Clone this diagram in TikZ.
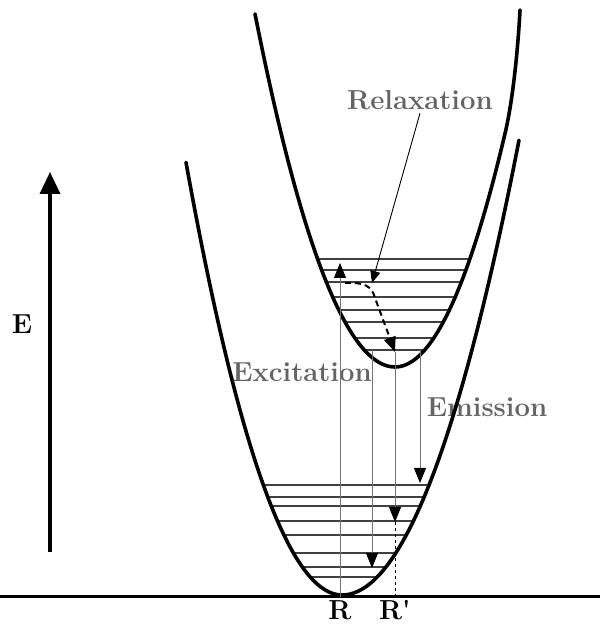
\documentclass[tikz,border=0pt]{standalone}
\usepackage{tikz}
\usetikzlibrary{positioning,arrows.meta}
\definecolor{labelgray}{RGB}{100,100,100}

\begin{document}
\begin{tikzpicture}[x=1pt, y=1pt, >={Triangle[length=15pt,width=12pt,color=black]},
    every node/.style={font=\fontsize{27.5}{32}\selectfont\bfseries}]
  \tikzstyle{well}=[line width=3.6pt, line cap=round]
  \tikzstyle{level}=[line width=1.4pt, black!75]
  \tikzstyle{trans}=[line width=0.8pt, black!55]
  \tikzstyle{relax}=[line width=2pt, dash pattern=on 6pt off 4pt]
  \tikzstyle{lbl}=[text=labelgray]
  \useasboundingbox (0,0) rectangle (600,628);
  % energy axis and baseline
  \coordinate (axbot) at (50,76);
  \coordinate (axtop) at (50,456);
  \draw[line width=3.5pt, -{Triangle[length=22pt,width=20pt]}] (axbot) -- (axtop);
  \node (elbl) at (22,304) {E};
  \coordinate (base0) at (0,31);
  \coordinate (base1) at (600,31);
  \draw[line width=3pt] (base0) -- (base1);
  % labels
  \node[lbl] (relaxlbl) at (420,528) {Relaxation};
  \node[lbl] (exclbl) at (302,256) {Excitation};
  \node[lbl] (emlbl) at (487,221) {Emission};
  % vibrational levels
  \foreach \lv in {369,358,346,331,318,306,290,278} {
    \pgfmathsetmacro{\dd}{sqrt(\lv-261)}
    \draw[level] ({395-7.45*\dd},\lv) -- ({395+7.2*\dd},\lv);
  }
  \foreach \lv in {143,131,122,107,93,75,61,51} {
    \pgfmathsetmacro{\dd}{sqrt(\lv-33)}
    \draw[level] ({342-7.5*\dd},\lv) -- ({342+8.3*\dd},\lv);
  }
  % potential curves
  \draw[well] plot[domain=186:342, samples=60] (\x, {33+((342-\x)/7.5)^2})
    -- plot[domain=342:519, samples=60] (\x, {33+((\x-342)/8.3)^2});
  \draw[well] plot[domain=255:395, samples=60] (\x, {261+((395-\x)/7.45)^2})
    -- plot[domain=395:505, samples=50] (\x, {261+((\x-395)/7.2)^2})
    .. controls (513,528) and (518,580) .. (520,618);
  % transitions
  \coordinate (excbot) at (340,31);
  \coordinate (exctop) at (340,365);
  \coordinate (rpbot) at (395,31);
  \coordinate (em1top) at (420,278);
  \coordinate (em1bot) at (420,145);
  \coordinate (em2top) at (395,276);
  \coordinate (em2bot) at (395,106);
  \coordinate (em3top) at (372,278);
  \coordinate (em3bot) at (372,60);
  \draw[trans, ->] (excbot) -- (exctop);
  \draw[trans, ->] (em1top) -- (em1bot);
  \draw[trans, ->] (em2top) -- (em2bot);
  \draw[trans, ->] (em3top) -- (em3bot);
  \draw[line width=1pt, dash pattern=on 3pt off 3pt] (em2bot) -- (rpbot);
  \coordinate (relaxa) at (345,345);
  \coordinate (relaxtip) at (372,345);
  \draw[relax, ->] (relaxa) .. controls (364,346) and (372,342) .. (375,330) -- (em2top);
  \draw[line width=0.9pt, -{Triangle[length=12pt,width=10pt]}] (relaxlbl.south) -- (relaxtip);
  \node[below=0pt of excbot] (rlbl) {R};
  \node[below=0pt of rpbot] (rplbl) {R\textquotesingle};
\end{tikzpicture}
\end{document}
